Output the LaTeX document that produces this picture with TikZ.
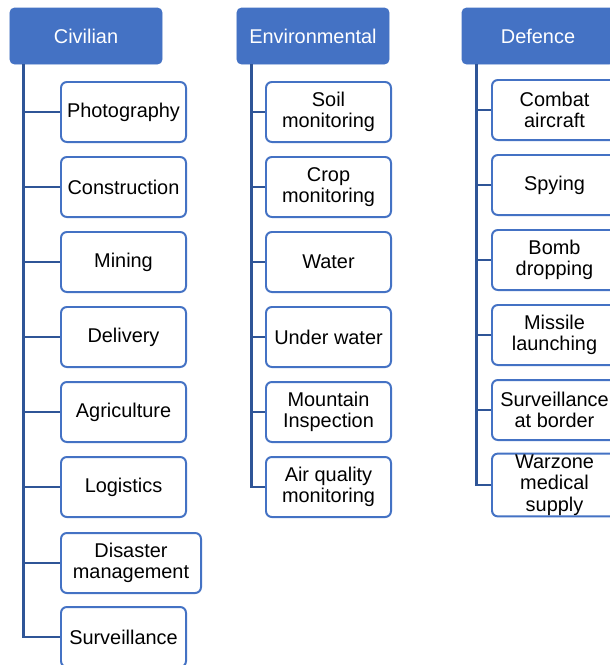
\documentclass[tikz,border=0pt]{standalone}
\usepackage{fontspec}
\setmainfont{Liberation Sans}
\usepackage{tikz}
\usetikzlibrary{calc}
\definecolor{headblue}{HTML}{4472C4}
\definecolor{linkblue}{HTML}{2F5597}
\tikzset{
  headcard/.style={draw=headblue,fill=headblue,line width=0.8pt,
                   rounded corners=4pt,minimum width=4.56cm,minimum height=1.68cm,
                   inner sep=2pt,text=white,font=\fontsize{17}{18}\selectfont},
  leafcard/.style={draw=headblue,fill=white,line width=1.7pt,
                   rounded corners=5pt,align=center,minimum width=3.75cm,
                   minimum height=1.8cm,inner sep=1pt,
                   font=\fontsize{17}{18.2}\selectfont},
  widecard/.style={leafcard,minimum width=4.2cm},
  link/.style={draw=linkblue,line width=2pt}
}

\begin{document}
\begin{tikzpicture}[x=0.03cm,y=-0.03cm]
    \useasboundingbox (0,0) rectangle (610,665);
    \clip (0,0) rectangle (610,665);
    % civilian column
    \node[headcard] (civ) at (86,36) {Civilian};
    \node[leafcard] (civ1) at (123.5,112) {Photography};
    \node[leafcard] (civ2) at (123.5,187) {Construction};
    \node[leafcard] (civ3) at (123.5,262) {Mining};
    \node[leafcard] (civ4) at (123.5,337) {Delivery};
    \node[leafcard] (civ5) at (123.5,412) {Agriculture};
    \node[leafcard] (civ6) at (123.5,487) {Logistics};
    \node[widecard] (civ7) at (131,563) {Disaster\\management};
    \node[leafcard] (civ8) at (123.5,637) {Surveillance};
    \coordinate (civtrunk) at ($(civ.south west)+(14,0)$);
    \draw[link] (civtrunk) |- (civ1.west);
    \draw[link] (civtrunk) |- (civ2.west);
    \draw[link] (civtrunk) |- (civ3.west);
    \draw[link] (civtrunk) |- (civ4.west);
    \draw[link] (civtrunk) |- (civ5.west);
    \draw[link] (civtrunk) |- (civ6.west);
    \draw[link] (civtrunk) |- (civ7.west);
    \draw[link] (civtrunk) |- (civ8.west);
    % environmental column
    \node[headcard] (env) at (313,36) {Environmental};
    \node[leafcard] (env1) at (328.5,112) {Soil\\monitoring};
    \node[leafcard] (env2) at (328.5,187) {Crop\\monitoring};
    \node[leafcard] (env3) at (328.5,262) {Water};
    \node[leafcard] (env4) at (328.5,337) {Under water};
    \node[leafcard] (env5) at (328.5,412) {Mountain\\Inspection};
    \node[leafcard] (env6) at (328.5,487) {Air quality\\monitoring};
    \coordinate (envtrunk) at ($(env.south west)+(15,0)$);
    \draw[link] (envtrunk) |- (env1.west);
    \draw[link] (envtrunk) |- (env2.west);
    \draw[link] (envtrunk) |- (env3.west);
    \draw[link] (envtrunk) |- (env4.west);
    \draw[link] (envtrunk) |- (env5.west);
    \draw[link] (envtrunk) |- (env6.west);
    % defence column
    \node[headcard] (def) at (538,36) {Defence};
    \node[leafcard] (def1) at (554.5,110) {Combat\\aircraft};
    \node[leafcard] (def2) at (554.5,185) {Spying};
    \node[leafcard] (def3) at (554.5,260) {Bomb\\dropping};
    \node[leafcard] (def4) at (554.5,335) {Missile\\launching};
    \node[leafcard] (def5) at (554.5,410) {Surveillance\\at border};
    \node[leafcard] (def6) at (554.5,485) {Warzone\\medical\\supply};
    \coordinate (deftrunk) at ($(def.south west)+(15,0)$);
    \draw[link] (deftrunk) |- (def1.west);
    \draw[link] (deftrunk) |- (def2.west);
    \draw[link] (deftrunk) |- (def3.west);
    \draw[link] (deftrunk) |- (def4.west);
    \draw[link] (deftrunk) |- (def5.west);
    \draw[link] (deftrunk) |- (def6.west);
\end{tikzpicture}
\end{document}
